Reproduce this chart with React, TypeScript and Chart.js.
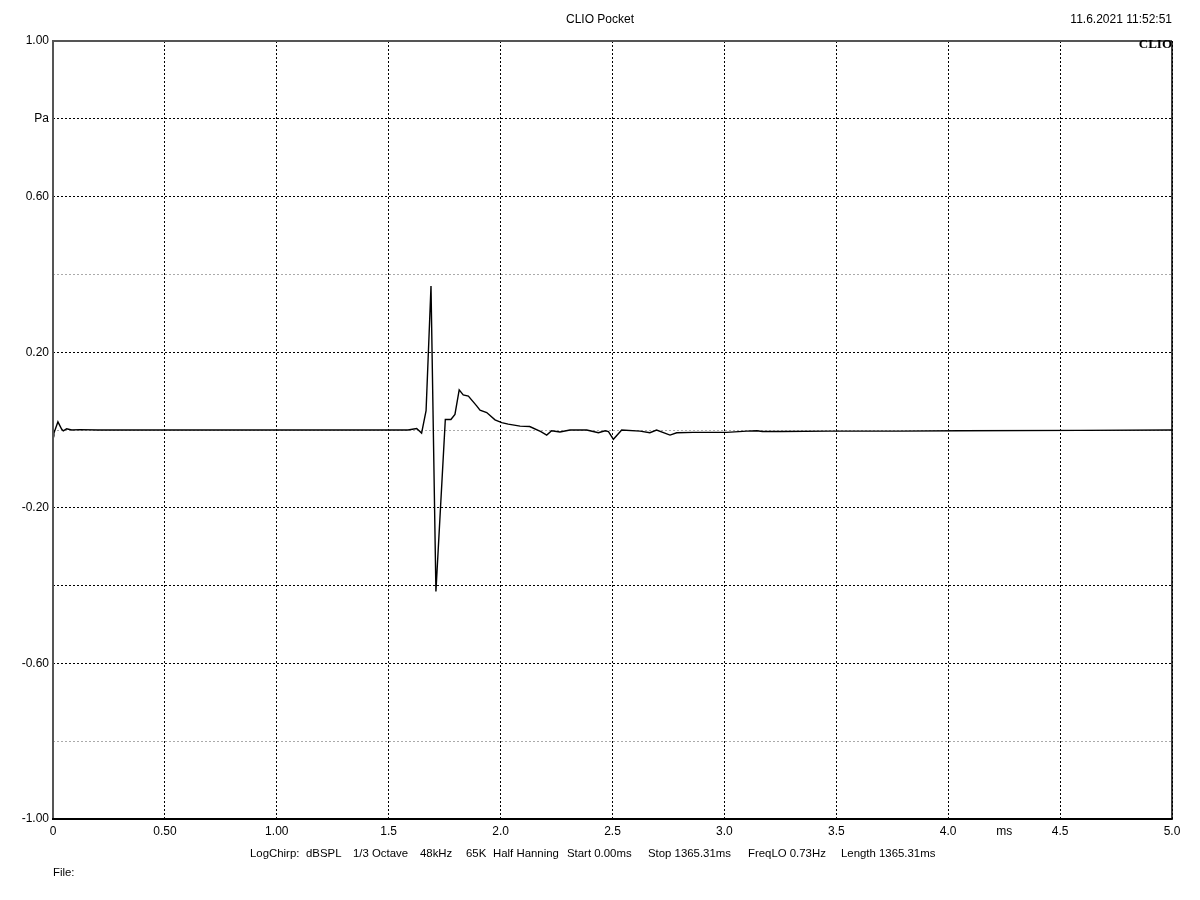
import React, { useEffect, useRef } from "react";
import { Chart, registerables } from "chart.js";

Chart.register(...registerables);

const timeMs = [
  0.0, 0.004, 0.022, 0.039, 0.046, 0.061, 0.084, 0.12, 0.2, 0.5, 1.0, 1.5, 1.586, 1.625, 1.647, 1.667,
  1.689, 1.711, 1.753, 1.778, 1.796, 1.815, 1.833, 1.856, 1.893, 1.908, 1.938, 1.975, 2.005, 2.034,
  2.087, 2.13, 2.18, 2.206, 2.228, 2.265, 2.31, 2.385, 2.437, 2.467, 2.482, 2.504, 2.541, 2.623,
  2.667, 2.697, 2.757, 2.787, 2.861, 3.01, 3.1, 3.145, 3.17, 3.25, 3.47, 3.78, 4.05, 4.59, 5.0,
];
const pressurePa = [
  0.0, -0.008, 0.021, 0.002, -0.002, 0.003, 0.0, 0.001, 0.0, 0.0, 0.0, 0.0, 0.0, 0.004, -0.008, 0.05,
  0.37, -0.415, 0.027, 0.027, 0.04, 0.103, 0.09, 0.087, 0.062, 0.051, 0.045, 0.026, 0.019, 0.015,
  0.01, 0.009, -0.004, -0.013, -0.002, -0.005, 0.0, 0.0, -0.007, -0.002, -0.004, -0.024, 0.0, -0.003,
  -0.007, 0.0, -0.013, -0.007, -0.006, -0.006, -0.003, -0.002, -0.004, -0.004, -0.003, -0.003, -0.002, -0.001, 0.0,
];

const yTickValues = [1, 0.8, 0.6, 0.4, 0.2, 0, -0.2, -0.4, -0.6, -0.8, -1];
const yTickLabels = ["1.00", "Pa", "0.60", "", "0.20", "", "-0.20", "", "-0.60", "", "-1.00"];
const yLightLines = [0.4, 0, -0.8];
const xTickValues = [0, 0.5, 1, 1.5, 2, 2.5, 3, 3.5, 4, 4.5, 5];
const xTickLabels = ["0", "0.50", "1.00", "1.5", "2.0", "2.5", "3.0", "3.5", "4.0", "4.5", "5.0"];

const titleText = "CLIO Pocket";
const dateText = "11.6.2021 11:52:51";
const infoSegments = [
  "LogChirp:",
  "dBSPL",
  "1/3 Octave",
  "48kHz",
  "65K",
  "Half Hanning",
  "Start 0.00ms",
  "Stop 1365.31ms",
  "FreqLO 0.73Hz",
  "Length 1365.31ms",
];
const fileText = "File:";
const unitX = "ms";

const FONT = "Liberation Sans, Arial, sans-serif";

function findLabel(values: number[], labels: string[], v: number) {
  const i = values.findIndex((t) => Math.abs(t - v) < 1e-6);
  return i >= 0 ? labels[i] : "";
}

export default function App() {
  const ref = useRef<HTMLCanvasElement | null>(null);

  useEffect(() => {
    const canvas = ref.current;
    if (!canvas) return;

    const infoX = [250, 306, 353, 420, 466, 493, 567, 648, 748, 841];

    const decor = {
      id: "decor",
      afterDraw(chart: any) {
        const { ctx, chartArea } = chart;
        const { left, right, top, bottom } = chartArea;
        const xs = chart.scales.x;
        ctx.save();
        // frame
        ctx.lineCap = "butt";
        ctx.strokeStyle = "#555555";
        ctx.lineWidth = 2;
        ctx.beginPath();
        ctx.moveTo(left, bottom);
        ctx.lineTo(left, top);
        ctx.lineTo(right, top);
        ctx.stroke();
        ctx.strokeStyle = "#000000";
        ctx.beginPath();
        ctx.moveTo(left - 1, bottom);
        ctx.lineTo(right, bottom);
        ctx.stroke();
        ctx.lineWidth = 1.5;
        ctx.beginPath();
        ctx.moveTo(right, top);
        ctx.lineTo(right, bottom + 1);
        ctx.stroke();

        ctx.fillStyle = "#000";
        ctx.font = `12px ${FONT}`;
        ctx.textBaseline = "middle";
        ctx.textAlign = "center";
        ctx.fillText(titleText, 600, 20);
        ctx.textAlign = "right";
        ctx.fillText(dateText, 1172, 20);
        ctx.textAlign = "center";
        ctx.fillText(unitX, xs.getPixelForValue(4.25), 832);
        ctx.textAlign = "left";
        ctx.font = `11.4px ${FONT}`;
        infoSegments.forEach((s, i) => ctx.fillText(s, infoX[i], 854));
        ctx.fillText(fileText, 53, 873);

        ctx.font = `bold 13px "Liberation Serif", "Times New Roman", serif`;
        ctx.textAlign = "right";
        ctx.fillText("CLIO", right, top + 4);
        ctx.restore();
      },
    };

    const chart = new Chart(canvas, {
      type: "line",
      data: {
        datasets: [
          {
            data: timeMs.map((t, i) => ({ x: t, y: pressurePa[i] })),
            borderColor: "#000000",
            borderWidth: 1.4,
            pointRadius: 0,
            tension: 0,
            fill: false,
          },
        ],
      },
      options: {
        animation: false,
        responsive: false,
        maintainAspectRatio: false,
        layout: { padding: { left: 0, right: 28, top: 41, bottom: 0 } },
        plugins: { legend: { display: false }, tooltip: { enabled: false }, title: { display: false } },
        scales: {
          x: {
            type: "linear",
            min: 0,
            max: 5,
            afterFit(scale: any) {
              scale.height = 81;
            },
            afterBuildTicks(scale: any) {
              scale.ticks = xTickValues.map((v) => ({ value: v }));
            },
            ticks: {
              color: "#000",
              font: { family: FONT, size: 12 },
              padding: 5,
              maxRotation: 0,
              autoSkip: false,
              callback: (v: any) => findLabel(xTickValues, xTickLabels, Number(v)),
            },
            grid: { drawTicks: false, color: "#000000", lineWidth: 1 },
            border: { display: false, dash: [2, 2] },
          },
          y: {
            type: "linear",
            min: -1,
            max: 1,
            afterFit(scale: any) {
              scale.width = 53;
            },
            afterBuildTicks(scale: any) {
              scale.ticks = yTickValues.map((v) => ({ value: v }));
            },
            ticks: {
              color: "#000",
              font: { family: FONT, size: 12 },
              padding: 4,
              autoSkip: false,
              callback: (v: any) => findLabel(yTickValues, yTickLabels, Number(v)),
            },
            grid: {
              drawTicks: false,
              lineWidth: 1,
              color: (c: any) =>
                yLightLines.some((l) => Math.abs(l - c.tick?.value) < 1e-6) ? "#aaaaaa" : "#000000",
            },
            border: { display: false, dash: [2, 2] },
          },
        },
      },
      plugins: [decor],
    } as any);

    return () => chart.destroy();
  }, []);

  return (
    <div style={{ position: "absolute", left: 0, top: 0, width: 1200, height: 900, background: "#fff" }}>
      <canvas ref={ref} width={1200} height={900} style={{ width: 1200, height: 900, display: "block" }} />
    </div>
  );
}
